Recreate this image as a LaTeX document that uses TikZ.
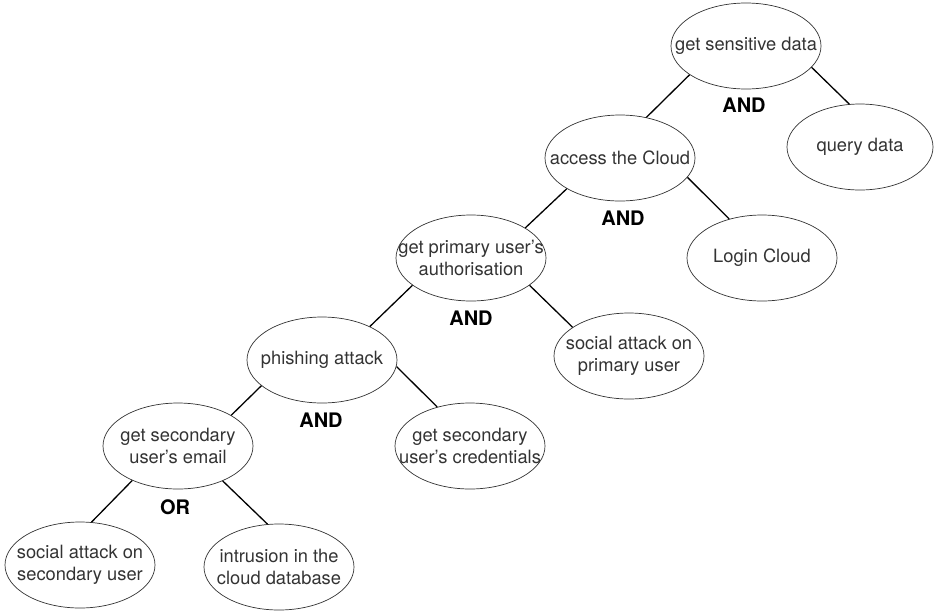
\documentclass[tikz,border=0pt]{standalone}
\usepackage{fontspec}
\setmainfont{TeX Gyre Heros}
\usepackage{tikz}
\usetikzlibrary{shapes.geometric}
\definecolor{treegray}{RGB}{51,51,51}
\tikzset{
  goal/.style={draw=treegray, ellipse, line width=0.7pt, minimum width=150pt, minimum height=86pt,
    inner xsep=-30pt, inner ysep=0pt, align=center, text=treegray, font=\fontsize{18.3}{22}\selectfont},
  gate/.style={font=\fontsize{20}{24}\selectfont\bfseries, text=black},
  branch/.style={line width=1.3pt, black}
}

\begin{document}
\begin{tikzpicture}[x=1pt, y=-1pt]
  \useasboundingbox (0,0) rectangle (934,614);

  % Root and first level
  \node[goal] (data) at (746,46) {get sensitive data};
  \node[goal, minimum width=146pt] (query) at (860,147) {query data};
  \node[goal] (cloud) at (620,158) {access the Cloud};
  \node[goal] (login) at (762,258) {Login Cloud};

  % Authorisation branch
  \node[goal] (auth) at (471,258) {get primary user's\\authorisation};
  \node[goal] (socprim) at (629,356) {social attack on\\primary user};

  % Phishing branch
  \node[goal] (phish) at (322,360) {phishing attack};
  \node[goal] (cred) at (470,446) {get secondary\\user's credentials};
  \node[goal] (email) at (178,446) {get secondary\\user's email};

  % Leaves
  \node[goal] (socsec) at (80,565) {social attack on\\secondary user};
  \node[goal] (intrude) at (279,567) {intrusion in the\\cloud database};

  % Gates
  \node[gate] (and1) at (744,105) {AND};
  \node[gate] (and2) at (623,218) {AND};
  \node[gate] (and3) at (471,318) {AND};
  \node[gate] (and4) at (321,420) {AND};
  \node[gate] (or1) at (175,507) {OR};

  % Branches
  \draw[branch] (data.207) -- (cloud.57);
  \draw[branch] (data.342) -- (query.104);
  \draw[branch] (cloud.210) -- (auth.29);
  \draw[branch] (cloud.344) -- (login.130);
  \draw[branch] (auth.205) -- (phish.35);
  \draw[branch] (auth.335) -- (socprim.153);
  \draw[branch] (phish.203) -- (email.30);
  \draw[branch] (phish.355) -- (cred.130);
  \draw[branch] (email.217) -- (socsec.75);
  \draw[branch] (email.322) -- (intrude.105);
\end{tikzpicture}
\end{document}
